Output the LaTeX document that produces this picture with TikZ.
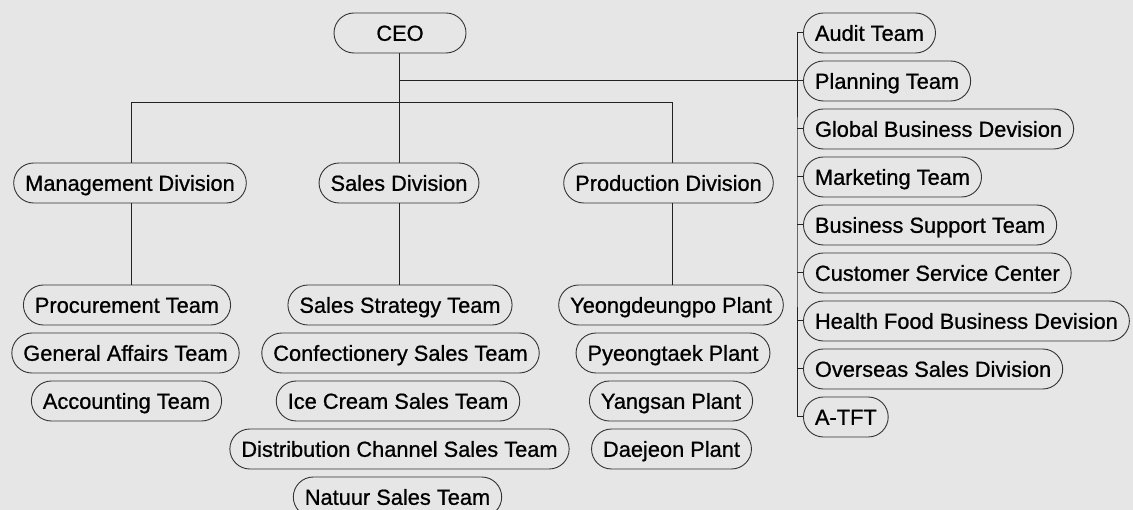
\documentclass[tikz,border=0pt]{standalone}
\usepackage{fontspec}
\setmainfont[FakeBold=0.8]{Liberation Sans}
\usepackage{tikz}
\usetikzlibrary{positioning}
\definecolor{bgcolor}{HTML}{E6E6E6}
\definecolor{boxline}{HTML}{333333}
\definecolor{wire}{HTML}{222222}
\tikzset{
  unit/.style={draw=boxline, line width=0.9pt, rounded corners=20pt,
    minimum height=40pt, inner xsep=11.5pt, inner ysep=0pt,
    text height=15.6pt, text depth=0pt, text=black,
    font=\fontsize{21.8pt}{26pt}\selectfont},
  link/.style={draw=wire, line width=1pt}
}
\begin{document}
\begin{tikzpicture}[x=1pt, y=-1pt]
\path[use as bounding box, fill=bgcolor] (0,0) rectangle (1133,510);

% Top
\node[unit, minimum width=132pt] (ceo) at (400,33) {CEO};

% Divisions
\node[unit] (mgmt)  at (130,183) {Management Division};
\node[unit] (sales) at (399,183) {Sales Division};
\node[unit] (prod)  at (668.5,183) {Production Division};

% Management teams
\node[unit] (procure) at (127,305) {Procurement Team};
\node[unit] (genaff)  at (125.5,353) {General Affairs Team};
\node[unit] (account) at (126.5,401) {Accounting Team};

% Sales teams
\node[unit] (strat)    at (400,305) {Sales Strategy Team};
\node[unit] (confect)  at (400.5,353) {Confectionery Sales Team};
\node[unit] (icecream) at (398,401) {Ice Cream Sales Team};
\node[unit] (distrib)  at (399.5,449) {Distribution Channel Sales Team};
\node[unit] (natuur)   at (397.5,497) {Natuur Sales Team};

% Plants
\node[unit] (yeong)   at (671,305) {Yeongdeungpo Plant};
\node[unit] (pyeong)  at (673,353) {Pyeongtaek Plant};
\node[unit] (yangsan) at (671,401) {Yangsan Plant};
\node[unit] (daejeon) at (671.5,449) {Daejeon Plant};

% Staff column on the right
\node[unit, anchor=west] (audit)    at (803,33)  {Audit Team};
\node[unit, anchor=west] (plan)     at (803,81)  {Planning Team};
\node[unit, anchor=west] (global)   at (803,129) {Global Business Devision};
\node[unit, anchor=west] (mkt)      at (803,177) {Marketing Team};
\node[unit, anchor=west] (support)  at (803,225) {Business Support Team};
\node[unit, anchor=west] (service)  at (803,273) {Customer Service Center};
\node[unit, anchor=west] (health)   at (803,321) {Health Food Business Devision};
\node[unit, anchor=west] (overseas) at (803,369) {Overseas Sales Division};
\node[unit, anchor=west] (atft)     at (803,417) {A-TFT};

\coordinate (barL) at (131,103);
\coordinate (barR) at (672,103);
\coordinate (spine) at (797,200);

% CEO to divisions
\draw[link] (ceo.south -| sales) -- (sales.north);
\draw[link] (mgmt.north -| barL) -- (barL) -- (barR) -- (barR |- prod.north);

% Divisions to teams
\draw[link] (mgmt.south -| barL) -- (barL |- procure.north);
\draw[link] (sales.south) -- (sales.south |- strat.north);
\draw[link] (barR |- prod.south) -- (barR |- yeong.north);

% CEO to staff column
\draw[link] (sales |- plan) -- (plan.west -| spine);
\draw[link] (audit.west) -| (spine) |- (atft.west);
\foreach \n in {plan,global,mkt,support,service,health,overseas}
  \draw[link] (\n.west) -- (\n.west -| spine);
\end{tikzpicture}
\end{document}
